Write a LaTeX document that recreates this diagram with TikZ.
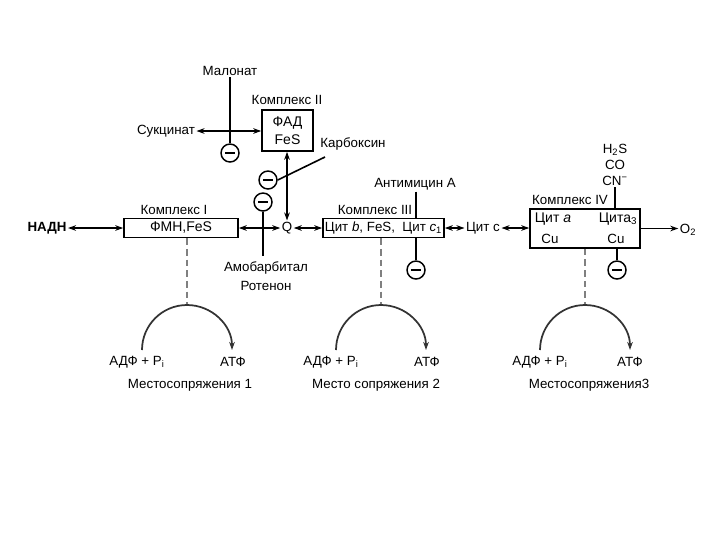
\documentclass[tikz,border=0pt]{standalone}
\usepackage{fontspec}
\setmainfont{Liberation Sans}
\usetikzlibrary{arrows.meta,calc}
\begin{document}
\begin{tikzpicture}[x=0.75pt,y=-0.75pt,
  every node/.style={font=\fontsize{10}{12}\selectfont, inner sep=1pt},
  box/.style={draw, line width=1.2pt, fill=white, inner sep=0pt, font=\fontsize{10.5}{12.5}\selectfont},
  tip/.tip={Stealth[length=6pt,width=4.2pt]},
  con/.style={line width=1pt, {tip}-{tip}},
  one/.style={line width=1pt, -{tip}},
  inl/.style={line width=1.2pt},
  inh/.style={circle, draw, line width=1.1pt, minimum size=13.5pt, inner sep=0pt, fill=white},
  dsh/.style={gray, line width=1.2pt, dash pattern=on 5pt off 3pt},
  arcl/.style={black!80, line width=1.3pt, -{tip}}
]
\useasboundingbox[fill=white] (0,0) rectangle (720,540);

% complexes
\node[box, minimum width=85.5pt, minimum height=14.25pt] (c1) at (181,228) {ФМН,FeS};
\node[box, minimum width=38.25pt, minimum height=30.75pt, align=center] (c2) at (287.5,130.5) {ФАД\\[1pt]FeS};
\node[box, minimum width=90.75pt, minimum height=14.25pt, font=\fontsize{10}{12}\selectfont] (c3) at (383.5,228) {Цит \textit{b}, FeS,\ \ Цит \textit{c}\textsubscript{1}};
\node[box, minimum width=82.5pt, minimum height=29.25pt] (c4) at (585,228.5) {};
\node[font=\fontsize{10.5}{12.5}\selectfont] (c4a) at (553,219) {Цит \textit{a}};
\node[font=\fontsize{10.5}{12.5}\selectfont] (c4b) at (618,219) {Цита\textsubscript{3}};
\node (c4c) at (550,239) {Cu};
\node (c4d) at (616,239) {Cu};

\node (l1) at (174,210) {Комплекс I};
\node (l2) at (287,100) {Комплекс II};
\node (l3) at (375,210) {Комплекс III};
\node (l4) at (570,200) {Комплекс IV};

% substrates
\node (nadh) at (47,228) {\textbf{НАДН}};
\node (q) at (287,228) {Q};
\node (citc) at (483,228) {Цит c};
\node (o2) at (688,230) {O\textsubscript{2}};
\node (succ) at (166,131) {Сукцинат};

\draw[con] (nadh.east) -- (c1.west);
\draw[con] (c1.east) -- (q.west);
\draw[con] (q.east) -- (c3.west);
\draw[con] (c3.east) -- (citc.west);
\draw[con] (citc.east) -- (citc.east -| c4.west);
\draw[one] (c4.east) -- (c4.east -| o2.west);
\draw[con] (succ.east) -- (succ.east -| c2.west);
\draw[con] (q.north) -- (q.north |- c2.south);

% inhibitors
\node (mal) at (230,71) {Малонат};
\node[inh] (i1) at (230,153) {\rule{7pt}{2pt}};
\draw[inl] (mal.south) -- (i1.north);

\node[inh] (i3) at (268,180) {\rule{7pt}{2pt}};
\node (carb) at (353,144) {Карбоксин};
\coordinate (cend) at (325,157);
\draw[inl] (i3.east) -- (cend);

\node[inh] (i2) at (263,202) {\rule{7pt}{2pt}};
\node[align=center] (amo) at (266,276) {Амобарбитал\\[2pt]Ротенон};
\draw[inl] (i2.south) -- ($(amo.north)+(-3,-4)$);

\node (anti) at (415,184) {Антимицин А};
\node[inh] (i4) at (416,270) {\rule{7pt}{2pt}};
\draw[inl] (anti.south -| i4) -- (i4 |- c3.north);
\draw[inl] (i4.north) -- (i4 |- c3.south);

\node (h2s) at (615,150) {H\textsubscript{2}S};
\node (co) at (615,165) {CO};
\node (cn) at (615,181) {CN\textsuperscript{−}};
\draw[inl] (cn.south) -- (cn.south |- c4.north);
\node[inh] (i5) at (617,270) {\rule{7pt}{2pt}};
\draw[inl] (i5.north) -- (i5.north |- c4.south);

% coupling sites
\coordinate (t1) at (187,305);
\coordinate (t2) at (381,305);
\coordinate (t3) at (585,305);
\draw[dsh] (t1 |- c1.south) -- (t1);
\draw[dsh] (t2 |- c3.south) -- (t2);
\draw[dsh] (t3 |- c4.south) -- (t3);

\coordinate (s1) at (142,350);
\coordinate (s2) at (336,350);
\coordinate (s3) at (540,350);
\draw[arcl] (s1) arc[start angle=180, end angle=0, radius=33.75pt];
\draw[arcl] (s2) arc[start angle=180, end angle=0, radius=33.75pt];
\draw[arcl] (s3) arc[start angle=180, end angle=0, radius=33.75pt];

\node (adp1) at (137,362) {АДФ + P\textsubscript{i}};
\node (atp1) at (233,362) {АТФ};
\node (site1) at (190,385) {Местосопряжения 1};
\node (adp2) at (331,362) {АДФ + P\textsubscript{i}};
\node (atp2) at (427,362) {АТФ};
\node (site2) at (376,385) {Место сопряжения 2};
\node (adp3) at (540,362) {АДФ + P\textsubscript{i}};
\node (atp3) at (630,362) {АТФ};
\node (site3) at (589,385) {Местосопряжения3};
\end{tikzpicture}
\end{document}
